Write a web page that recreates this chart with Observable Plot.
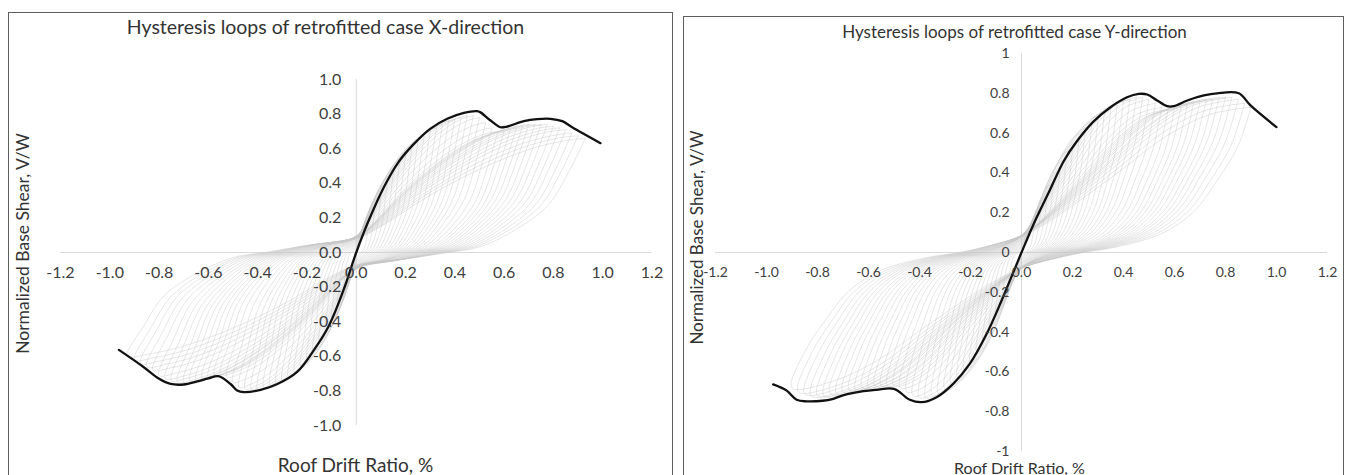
<!DOCTYPE html>
<html><head><meta charset="utf-8">
<script src="https://cdn.jsdelivr.net/npm/d3@7"></script>
<script src="https://cdn.jsdelivr.net/npm/@observablehq/plot@0.6"></script>
<style>
html,body{margin:0;padding:0;background:#fff;}
body{width:1348px;height:475px;position:relative;overflow:hidden;font-family:Lato,"Open Sans",sans-serif;}
.frame{position:absolute;border:1.5px solid #5e5e5e;box-sizing:border-box;}
.panel{position:absolute;top:0;}
</style></head><body>
<div class="frame" style="left:8px;top:12px;width:665px;height:480px"></div>
<div class="frame" style="left:683px;top:16px;width:661px;height:480px"></div>
<div id="p1" class="panel" style="left:0px"></div>
<div id="p2" class="panel" style="left:676px"></div>
<script>
// ---- tick values and labels ----
const xTicks = [-1.2,-1.0,-0.8,-0.6,-0.4,-0.2,0.0,0.2,0.4,0.6,0.8,1.0,1.2];
const xTickLabels = ["-1.2","-1.0","-0.8","-0.6","-0.4","-0.2","0.0","0.2","0.4","0.6","0.8","1.0","1.2"];
const yTicks = [1.0,0.8,0.6,0.4,0.2,0.0,-0.2,-0.4,-0.6,-0.8,-1.0];
const yTickLabelsX = ["1.0","0.8","0.6","0.4","0.2","0.0","-0.2","-0.4","-0.6","-0.8","-1.0"];
const yTickLabelsY = ["1","0.8","0.6","0.4","0.2","0","-0.2","-0.4","-0.6","-0.8","-1"];

// ---- backbone (black) curves ----
const backboneX_drift = [-0.963,-0.862,-0.80,-0.753,-0.70,-0.645,-0.60,-0.56,-0.51,-0.483,-0.456,-0.388,-0.32,-0.24,-0.17,-0.11,-0.05,0,0.045,0.112,0.17,0.234,0.30,0.369,0.437,0.49,0.504,0.545,0.585,0.612,0.68,0.734,0.788,0.836,0.876,0.991];
const backboneX_shear = [-0.563,-0.663,-0.73,-0.76,-0.763,-0.745,-0.728,-0.715,-0.76,-0.798,-0.807,-0.794,-0.76,-0.69,-0.56,-0.42,-0.21,0,0.166,0.377,0.52,0.628,0.715,0.773,0.807,0.817,0.81,0.763,0.724,0.728,0.759,0.771,0.773,0.759,0.724,0.632];
const backboneY_drift = [-0.974,-0.922,-0.882,-0.843,-0.78,-0.738,-0.70,-0.62,-0.569,-0.50,-0.438,-0.392,-0.333,-0.268,-0.203,-0.137,-0.078,0,0.05,0.11,0.166,0.218,0.284,0.349,0.414,0.46,0.493,0.532,0.571,0.597,0.65,0.715,0.767,0.852,0.898,1.0];
const backboneY_shear = [-0.663,-0.693,-0.74,-0.748,-0.745,-0.735,-0.718,-0.697,-0.69,-0.685,-0.74,-0.752,-0.727,-0.66,-0.56,-0.41,-0.241,0,0.15,0.31,0.46,0.56,0.66,0.73,0.78,0.797,0.794,0.764,0.735,0.735,0.764,0.789,0.80,0.80,0.739,0.63];

// ---- hysteresis loops: peak drift and peak shear (+/-) of each cycle ----
const loopsX_drift = [0.05,0.075,0.10,0.125,0.15,0.175,0.20,0.225,0.25,0.275,0.30,0.325,0.35,0.375,0.40,0.425,0.45,0.475,0.50,0.525,0.55,0.575,0.60,0.625,0.65,0.675,0.70,0.725,0.75,0.775,0.80,0.825,0.85,0.875,0.90,0.93];
const loopsX_pos = [0.18,0.26,0.33,0.40,0.46,0.51,0.56,0.60,0.64,0.67,0.70,0.72,0.74,0.76,0.77,0.78,0.79,0.79,0.78,0.75,0.72,0.70,0.70,0.71,0.72,0.73,0.74,0.74,0.74,0.74,0.73,0.72,0.71,0.69,0.675,0.66];
const loopsX_neg = [0.20,0.29,0.38,0.45,0.51,0.57,0.62,0.66,0.69,0.72,0.74,0.76,0.77,0.78,0.79,0.79,0.79,0.78,0.75,0.72,0.71,0.71,0.72,0.73,0.74,0.74,0.75,0.75,0.74,0.73,0.71,0.68,0.66,0.64,0.62,0.60];
const loopsY_drift = [0.05,0.075,0.10,0.125,0.15,0.175,0.20,0.225,0.25,0.275,0.30,0.325,0.35,0.375,0.40,0.425,0.45,0.475,0.50,0.525,0.55,0.575,0.60,0.625,0.65,0.675,0.70,0.725,0.75,0.775,0.80,0.825,0.85,0.875,0.90];
const loopsY_pos = [0.15,0.22,0.28,0.35,0.41,0.47,0.52,0.56,0.61,0.64,0.67,0.70,0.72,0.74,0.76,0.77,0.78,0.78,0.77,0.75,0.73,0.72,0.72,0.73,0.74,0.75,0.76,0.77,0.77,0.78,0.78,0.78,0.77,0.75,0.73];
const loopsY_neg = [0.16,0.23,0.30,0.37,0.44,0.50,0.55,0.59,0.63,0.66,0.69,0.71,0.72,0.73,0.73,0.72,0.70,0.68,0.67,0.67,0.67,0.67,0.68,0.68,0.69,0.69,0.70,0.71,0.71,0.72,0.72,0.72,0.71,0.70,0.68];

// ---- loop branch shape (unloading branch, relative to the cycle's peaks) ----
const shapeX_u = [1,0.925,0.84,0.72,0.54,0.40,0.22,0,-0.11,-0.32,-0.54,-0.75,-0.91,-1];
const shapeX_w = [1,0.70,0.42,0.23,0.05,0,-0.06,-0.12,-0.23,-0.50,-0.73,-0.90,-0.98,-1];
const shapeY_u = [1,0.94,0.85,0.75,0.61,0.42,0.27,0.13,0,-0.127,-0.42,-0.63,-0.82,-1];
const shapeY_w = [1,0.72,0.49,0.28,0.13,0.04,0,-0.05,-0.11,-0.22,-0.55,-0.80,-0.95,-1];

function buildLoops(D, Vp, Vn, U, W) {
  const rows = [];
  D.forEach((d, i) => {
    const pt = (u, w) => ({loop: i, x: u * d, y: w >= 0 ? w * Vp[i] : w * Vn[i]});
    U.forEach((u, k) => rows.push(pt(u, W[k])));           // unloading branch
    for (let k = 1; k < U.length; k++) rows.push(pt(-U[k], -W[k])); // reloading branch
  });
  return rows;
}
function buildBackbone(xs, ys) { return xs.map((x, i) => ({x, y: ys[i]})); }

function panel(o) {
  const tc = "#404040";
  const lab = {textAnchor: "middle", lineAnchor: "middle", frameAnchor: "top-left"};
  return Plot.plot({
    width: o.width, height: 475,
    marginLeft: o.ml, marginRight: o.mr, marginTop: o.mt, marginBottom: o.mb,
    x: {domain: [-1.2, 1.2], axis: null},
    y: {domain: [-1, 1], axis: null},
    style: {background: "transparent", overflow: "visible", fontFamily: "Lato, 'Open Sans', sans-serif"},
    marks: [
      Plot.ruleY([0], {stroke: "#d9d9d9", strokeWidth: 1}),
      Plot.ruleX([0], {stroke: "#d9d9d9", strokeWidth: 1}),
      Plot.line(o.loops, {x: "x", y: "y", z: "loop", stroke: "#c6c6c6", strokeWidth: 0.45, curve: "catmull-rom"}),
      Plot.line(o.backbone, {x: "x", y: "y", stroke: "#111", strokeWidth: 2.3, curve: "catmull-rom"}),
      Plot.text(xTicks, {x: d => d, y: 0, dy: o.xTickDy, text: (d, i) => xTickLabels[i], fontSize: o.tickSize, fill: tc}),
      Plot.text(yTicks, {x: 0, y: d => d, dx: o.yTickDx, text: (d, i) => o.yLabels[i], textAnchor: "end", fontSize: o.tickSize, fill: tc}),
      Plot.text([o.title], {...lab, dx: o.titleX - o.ml, dy: o.titleY - o.mt, fontSize: o.titleSize, fill: "#333"}),
      Plot.text(["Roof Drift Ratio, %"], {...lab, dx: o.xlX - o.ml, dy: o.xlY - o.mt, fontSize: o.xLabelSize, fill: "#333"}),
      Plot.text(["Normalized Base Shear, V/W"], {...lab, dx: o.ylX - o.ml, dy: o.ylY - o.mt, rotate: -90, fontSize: o.yLabelSize, fill: "#333"})
    ]
  });
}

document.getElementById("p1").append(panel({
  width: 676, ml: 60, mr: 24.5, mt: 79, mb: 50,
  loops: buildLoops(loopsX_drift, loopsX_pos, loopsX_neg, shapeX_u, shapeX_w),
  backbone: buildBackbone(backboneX_drift, backboneX_shear),
  yLabels: yTickLabelsX, tickSize: 16, xTickDy: 20, yTickDx: -15,
  title: "Hysteresis loops of retrofitted case X-direction", titleX: 325, titleY: 27, titleSize: 19.5,
  xlX: 355, xlY: 465, ylX: 23, ylY: 243, xLabelSize: 19, yLabelSize: 17.5
}));
document.getElementById("p2").append(panel({
  width: 672, ml: 39, mr: 21, mt: 53, mb: 24,
  loops: buildLoops(loopsY_drift, loopsY_pos, loopsY_neg, shapeY_u, shapeY_w),
  backbone: buildBackbone(backboneY_drift, backboneY_shear),
  yLabels: yTickLabelsY, tickSize: 14, xTickDy: 20, yTickDx: -12,
  title: "Hysteresis loops of retrofitted case Y-direction", titleX: 338, titleY: 32, titleSize: 17,
  xlX: 343, xlY: 468, ylX: 21, ylY: 237, xLabelSize: 16, yLabelSize: 17
}));
</script></body></html>
